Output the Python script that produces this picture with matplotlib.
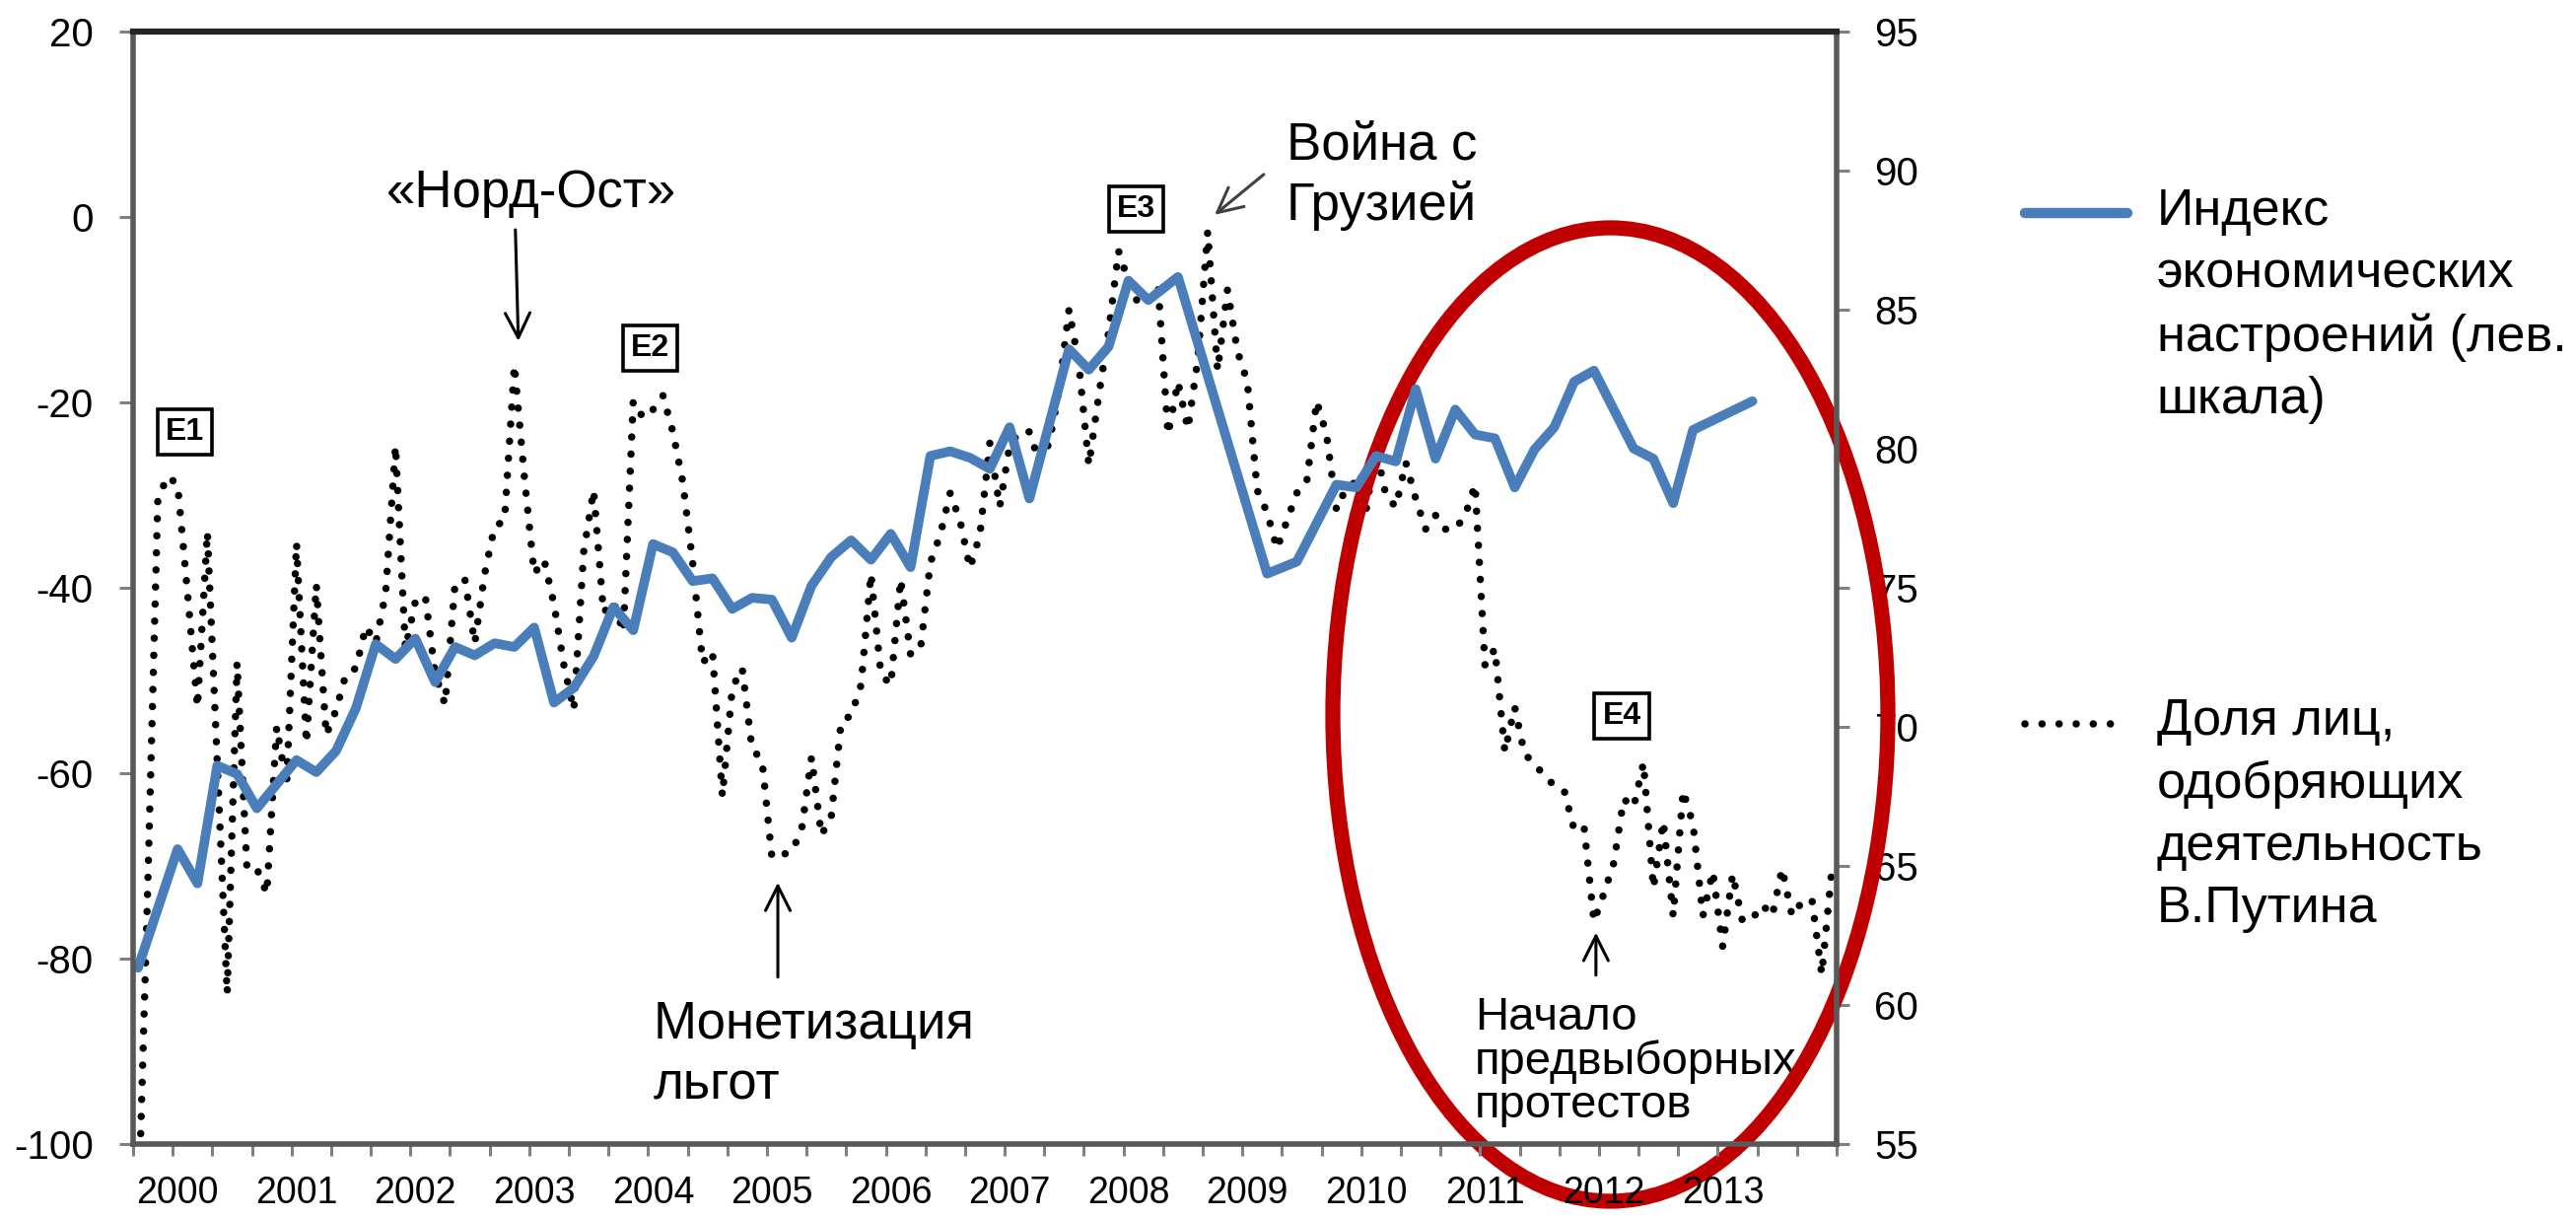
import numpy as np
import matplotlib
matplotlib.use("Agg")
import matplotlib.pyplot as plt
from matplotlib.patches import Ellipse
from matplotlib.lines import Line2D

plt.rcParams['font.family'] = ['Liberation Sans', 'DejaVu Sans']
plt.rcParams['axes.unicode_minus'] = False

# monthly categories start in Sep 1999
start_year, start_month = 1999, 9

# share approving Putin, % (right scale), one value per month Sep 1999 .. Dec 2013
approval = [
    52.0, 64.5, 78.2, 79.0,
    78.7, 74.8, 70.7, 77.0, 68.7, 60.4, 72.3, 64.9, 64.9, 64.0, 70.0, 67.9,
    76.6, 69.4, 75.1, 69.7, 70.6, 71.9, 72.1, 73.6, 73.0, 74.8, 80.1, 72.8,
    74.5, 74.7, 71.9, 70.8, 75.1, 75.3, 73.0, 75.5, 77.2, 77.4, 83.0, 79.0,
    75.5, 76.0, 74.4, 72.2, 70.6, 76.3, 78.5, 74.1, 74.5, 73.4, 81.7, 81.1,
    81.4, 81.9, 80.6, 78.8, 75.9, 72.3, 72.7, 67.5, 71.4, 72.1, 69.2, 68.8,
    65.3, 65.4, 65.5, 66.3, 68.9, 66.1, 66.8, 70.2, 70.4, 71.5, 75.5, 71.9,
    71.5, 75.3, 72.6, 72.8, 75.9, 76.9, 78.4, 77.4, 75.7, 76.9, 80.2, 77.9,
    80.1, 80.6, 80.6, 79.5, 80.2, 82.1, 85.0, 83.0, 79.4, 81.9, 84.2, 87.1,
    86.0, 85.2, 85.3, 85.8, 80.5, 82.4, 80.7, 83.2, 87.8, 82.8, 85.7, 83.5,
    82.4, 78.5, 77.7, 76.4, 77.4, 78.4, 78.8, 81.7, 80.5, 77.8, 78.6, 78.8,
    77.8, 80.0, 78.3, 77.9, 79.5, 78.2, 77.1, 77.6, 77.1, 77.1, 77.6, 78.7,
    72.2, 72.8, 69.1, 70.7, 69.0, 68.7, 68.2, 67.9, 67.7, 66.3, 66.4, 63.0,
    64.0, 65.1, 67.4, 67.1, 68.7, 64.2, 66.6, 63.2, 67.7, 66.5, 63.2, 64.8,
    62.1, 64.7, 63.0, 63.1, 63.6, 63.2, 64.9, 63.2, 63.7, 63.8, 61.1, 64.8,
]

# economic sentiment index (left scale)
sentiment_dates = [
    "1999-09", "2000-01", "2000-03", "2000-05", "2000-07", "2000-09",
    "2001-01", "2001-03", "2001-05", "2001-07", "2001-09", "2001-11",
    "2002-01", "2002-03", "2002-05", "2002-07", "2002-09", "2002-11",
    "2003-01", "2003-03", "2003-05", "2003-07", "2003-09", "2003-11",
    "2004-01", "2004-03", "2004-05", "2004-07", "2004-09", "2004-11",
    "2005-01", "2005-03", "2005-05", "2005-07", "2005-09", "2005-11",
    "2006-01", "2006-03", "2006-05", "2006-07", "2006-09", "2006-11",
    "2007-01", "2007-03", "2007-07", "2007-09", "2007-11",
    "2008-01", "2008-03", "2008-06", "2009-03", "2009-06", "2009-10",
    "2009-12", "2010-02", "2010-04", "2010-06", "2010-08", "2010-10",
    "2010-12", "2011-02", "2011-04", "2011-06", "2011-08", "2011-10",
    "2011-12", "2012-04", "2012-06", "2012-08", "2012-10", "2013-04",
]
sentiment = [
    -81.0, -68.2, -71.9, -59.2, -60.1, -63.8,
    -58.6, -59.9, -57.6, -53.0, -46.1, -47.7,
    -45.5, -50.2, -46.4, -47.3, -46.0, -46.4,
    -44.3, -52.4, -50.8, -47.4, -42.1, -44.6,
    -35.3, -36.2, -39.3, -39.0, -42.3, -41.1,
    -41.3, -45.4, -39.8, -36.7, -34.9, -37.0,
    -34.2, -37.8, -25.8, -25.3, -26.0, -27.2,
    -22.7, -30.4, -14.3, -16.5, -14.0,
    -6.9, -9.0, -6.5, -38.5, -37.2, -28.9,
    -29.2, -25.8, -26.4, -18.6, -26.1, -20.8,
    -23.5, -23.9, -29.2, -25.1, -22.7, -17.8,
    -16.6, -25.0, -26.1, -30.9, -23.0, -19.9,
]

years = list(range(2000, 2014))

label_sent = "Индекс\nэкономических\nнастроений (лев.\nшкала)"
label_app = "Доля лиц,\nодобряющих\nдеятельность\nВ.Путина"


def month_index(s):
    y, m = map(int, s.split("-"))
    return (y - start_year) * 12 + (m - start_month)


x_app = np.arange(len(approval))
x_sent = [month_index(d) for d in sentiment_dates]

BLUE = "#4A7EBB"
DOTS = (0, (0.01, 2.3))
GREY = "#808080"

fig = plt.figure(figsize=(26.13, 12.35), dpi=100)
ax = fig.add_axes([0.05166, 0.06073, 0.66131, 0.91368])
ax2 = ax.twinx()

ax2.plot(x_app, approval, color="black", lw=5.4, linestyle=DOTS,
         dash_capstyle="round")
ax.plot(x_sent, sentiment, color=BLUE, lw=7, solid_joinstyle="round",
        solid_capstyle="round")

ax.set_zorder(ax2.get_zorder() + 1)
ax.patch.set_visible(False)

# axes, ticks
ax.set_xlim(-0.5, len(approval) - 0.5)
ax.set_xticks(np.arange(-0.5, len(approval), 4))
ax.set_xticklabels([])
ax.set_xticks([month_index(f"{y}-01") for y in years], minor=True)
ax.set_xticklabels([str(y) for y in years], minor=True, fontsize=27)
ax.tick_params(axis="x", which="major", length=8.6, width=2.2, color=GREY)
ax.tick_params(axis="x", which="minor", length=0, pad=23)

ax.set_ylim(-100, 20)
ax.set_yticks(range(-100, 21, 20))
ax.tick_params(axis="y", length=10, width=2.2, color=GREY, pad=19, labelsize=29)

ax2.set_ylim(55, 95)
ax2.set_yticks(range(55, 96, 5))
ax2.tick_params(axis="y", length=9.7, width=2.2, color=GREY, pad=18, labelsize=29)

for side in ["left", "bottom", "right"]:
    ax.spines[side].set_color("#595959")
    ax.spines[side].set_linewidth(4)
ax.spines["top"].set_color("#262626")
ax.spines["top"].set_linewidth(4.5)
for s in ax2.spines.values():
    s.set_visible(False)

# event boxes
for txt, xi, yv in [("E1", 4.7, 80.6), ("E2", 51.7, 83.6),
                    ("E3", 100.8, 88.6), ("E4", 149.8, 70.4)]:
    ax2.text(xi, yv, txt, ha="center", va="center", fontsize=23,
             fontweight="bold",
             bbox=dict(boxstyle="square,pad=0.25", fc="white", ec="black", lw=2.6))

# annotations (va="baseline" of a multi-line text sits on the last line)
arrow = dict(arrowstyle="->", lw=2.2, color="black", shrinkA=0, shrinkB=0,
             mutation_scale=45)
ax2.text(39.76, 88.69, "«Норд-Ост»", ha="center", va="baseline", fontsize=38)
ax2.annotate("", xy=(38.4, 83.86), xytext=(38.1, 87.86), arrowprops=arrow)

ax2.text(52.05, 56.62, "Монетизация\nльгот", ha="left", va="baseline",
         fontsize=38, linespacing=1.3)
ax2.annotate("", xy=(64.6, 64.4), xytext=(64.6, 61.0), arrowprops=arrow)

ax2.text(115.95, 88.22, "Война с\nГрузией", ha="left", va="baseline",
         fontsize=38, linespacing=1.27)
ax2.annotate("", xy=(108.7, 88.4), xytext=(113.66, 89.85),
             arrowprops=dict(arrow, color="#404040"))

ax2.text(134.96, 55.96, "Начало\nпредвыборных\nпротестов", ha="left",
         va="baseline", fontsize=34, linespacing=1.0)
ax2.annotate("", xy=(147.2, 62.6), xytext=(147.2, 61.07), arrowprops=arrow)

# red ellipse around 2010-2013
fig.add_artist(Ellipse((1633.5 / 2613, 1 - 724.5 / 1235), 563 / 2613, 987 / 1235,
                       transform=fig.transFigure, fill=False, ec="#C00000", lw=11))

# legend
fig.add_artist(Line2D([0.786, 0.826], [0.8255, 0.8255], transform=fig.transFigure,
                      color=BLUE, lw=7.5, solid_capstyle="round"))
fig.text(0.8373, 0.8462, label_sent, ha="left", va="top", fontsize=37.5,
         linespacing=1.38)
fig.add_artist(Line2D([0.786, 0.8247], [0.406, 0.406], transform=fig.transFigure,
                      color="black", lw=5.4, linestyle=DOTS, dash_capstyle="round"))
fig.text(0.8373, 0.4275, label_app, ha="left", va="top", fontsize=37.5,
         linespacing=1.38)

fig.savefig("out.png", dpi=100)
